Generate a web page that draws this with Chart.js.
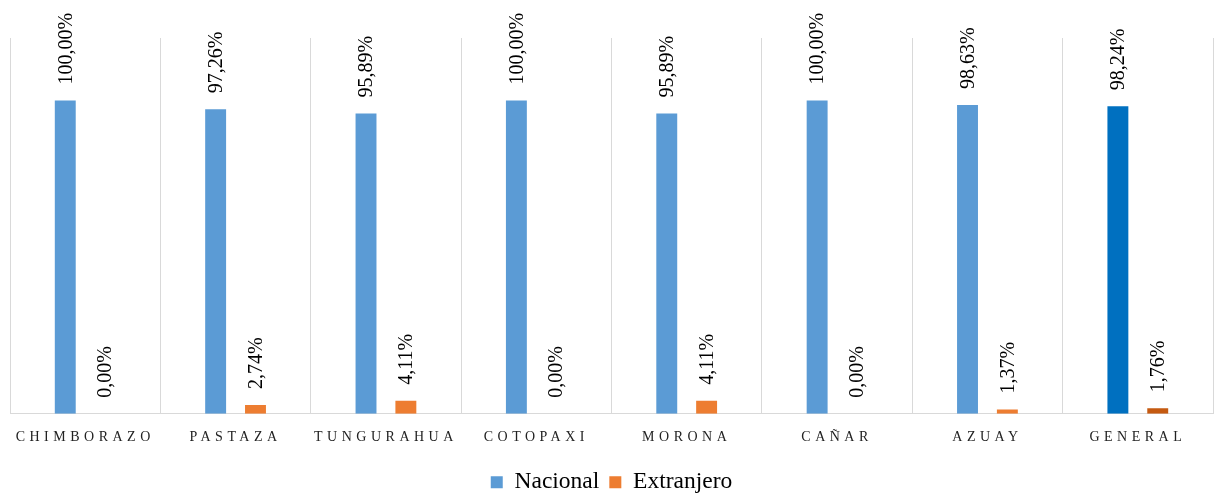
<!DOCTYPE html>
<html>
<head>
<meta charset="utf-8">
<script src="https://cdn.jsdelivr.net/npm/chart.js@4.4.0/dist/chart.umd.min.js"></script>
<style>
  html, body { margin: 0; padding: 0; background: #ffffff; }
  #box { width: 1222px; height: 495px; }
</style>
</head>
<body>
<div id="box"><canvas id="myChart"></canvas></div>
<script>
// data
var provincias = ['CHIMBORAZO', 'PASTAZA', 'TUNGURAHUA', 'COTOPAXI', 'MORONA', 'CAÑAR', 'AZUAY', 'GENERAL']
var nacional = [100.00, 97.26, 95.89, 100.00, 95.89, 100.00, 98.63, 98.24]
var extranjero = [0.00, 2.74, 4.11, 0.00, 4.11, 0.00, 1.37, 1.76]
var series_names = ['Nacional', 'Extranjero']

var colors = ['#5B9BD5', '#ED7D31']
var general_colors = ['#0070C0', '#C55A11']
var serif = "'Liberation Serif', 'Times New Roman', serif"

function pick_color(ds_num) {
    return function (ctx) {
        if (ctx.dataIndex === provincias.length - 1) return general_colors[ds_num]
        return colors[ds_num]
    }
}

// rotated value labels above every bar
const value_labels = {
    id: 'value_labels',
    afterDatasetsDraw: (chart) => {
        const ctx = chart.ctx
        chart.data.datasets.forEach((ds, ds_num) => {
            const meta = chart.getDatasetMeta(ds_num)
            meta.data.forEach((bar, i) => {
                var txt = ds.data[i].toFixed(2).replace('.', ',') + '%'
                ctx.save()
                ctx.letterSpacing = '0px'
                ctx.translate(bar.x, bar.y - 16)
                ctx.rotate(-Math.PI / 2)
                ctx.font = '20px ' + serif
                ctx.fillStyle = '#000000'
                ctx.textAlign = 'left'
                ctx.textBaseline = 'middle'
                ctx.fillText(txt, 0, 1)
                ctx.restore()
            })
        })
    }
}

// spaced capitals for the category names
const spaced_ticks = {
    id: 'spaced_ticks',
    beforeDraw: (chart) => {
        const scale = chart.scales.x
        if (scale._spaced) return
        const orig = scale.drawLabels
        scale.drawLabels = function (area) {
            chart.ctx.save()
            chart.ctx.letterSpacing = '4.5px'
            orig.call(this, area)
            chart.ctx.restore()
        }
        scale._spaced = true
    }
}

var the_chart_canvas = document.getElementById('myChart').getContext('2d')
var myChart = new Chart(the_chart_canvas, {
    type: 'bar',
    data: {
        labels: provincias,
        datasets: [
            { label: series_names[0], data: nacional, backgroundColor: pick_color(0) },
            { label: series_names[1], data: extranjero, backgroundColor: pick_color(1) }
        ]
    },
    options: {
        responsive: true,
        maintainAspectRatio: false,
        animation: false,
        layout: { padding: { left: 10, right: 9, top: 38, bottom: -9 } },
        datasets: { bar: { categoryPercentage: 0.53, barPercentage: 0.525 } },
        scales: {
            x: {
                grid: { color: '#D9D9D9', drawTicks: false, offset: true },
                border: { color: '#D9D9D9', width: 1 },
                ticks: { color: '#222222', padding: 15, maxRotation: 0, font: { family: serif, size: 14 } }
            },
            y: { display: false, min: 0, max: 120 }
        },
        plugins: {
            tooltip: { enabled: false },
            legend: {
                position: 'bottom',
                labels: { color: '#000000', boxWidth: 12, boxHeight: 12, padding: 10, font: { family: serif, size: 23.5 } }
            }
        }
    },
    plugins: [value_labels, spaced_ticks]
})
</script>
</body>
</html>
